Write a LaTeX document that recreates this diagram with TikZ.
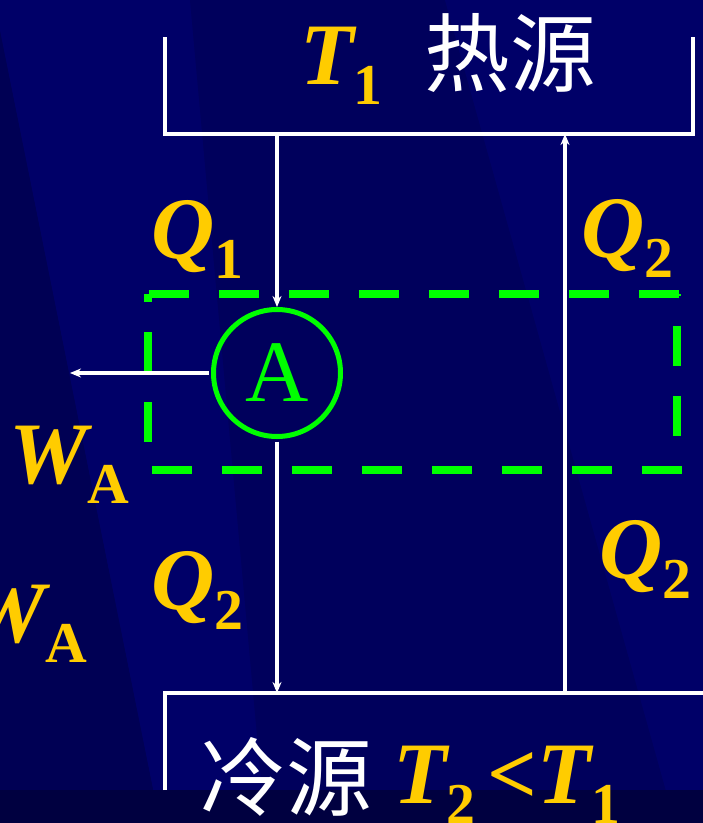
\documentclass[tikz,border=0pt]{standalone}
\usepackage{fontspec}
\setmainfont{Liberation Serif}
\newfontfamily\cjk{Noto Sans CJK SC}
\usepackage{tikz}
\usetikzlibrary{arrows.meta,positioning}

\definecolor{navy}{RGB}{0,0,100}
\definecolor{navydark}{RGB}{0,0,84}
\definecolor{navymid}{RGB}{0,0,92}
\definecolor{navylight}{RGB}{0,0,104}
\definecolor{navystrip}{RGB}{0,0,64}
\definecolor{gold}{RGB}{255,204,0}
\definecolor{lime}{RGB}{0,255,0}

\newcommand\heat[2]{{\fontsize{88}{88}\selectfont\bfseries\itshape #1}\raisebox{-20bp}{\fontsize{58}{58}\selectfont\bfseries #2}}

\begin{document}
\begin{tikzpicture}[x=1bp,y=-1bp,
  wire/.style={draw=white,line width=3.5bp},
  flow/.style={draw=white,line width=3.2bp,-{Stealth[length=11bp,width=9bp]}},
  gdash/.style={draw=lime,line width=8.5bp,dash pattern=on 40bp off 30bp},
  lab/.style={anchor=base west,inner sep=0pt,text=gold},
  hanzi/.style={inner sep=0pt,text=white,font=\cjk\fontsize{86}{86}\selectfont}]
\useasboundingbox (0,0) rectangle (703,823);
%\draw[help lines] (0,0) grid[step=50] (703,823);
%
\fill[navy] (0,0) rectangle (703,823);
\fill[navydark] (0,30) -- (160,823) -- (0,823) -- cycle;
\fill[navylight] (0,0) -- (190,0) -- (265,823) -- (160,823) -- (0,30) -- cycle;
\fill[navymid] (190,0) -- (445,0) -- (675,823) -- (265,823) -- cycle;
\fill[navylight] (445,0) -- (703,0) -- (703,823) -- (675,823) -- cycle;
\fill[navystrip] (0,790) rectangle (703,823);
%
\draw[wire] (165,37) -- (165,134) -- (693,134) -- (693,37);
\draw[wire] (165,790) -- (165,693) -- (703,693);
\coordinate (hotout) at (277,134);
\coordinate (hotin) at (565,134);
\coordinate (coldin) at (277,693);
\coordinate (coldout) at (565,693);
\coordinate (work) at (70,373);
%
\draw[gdash] (149,294) -- (682,294);
\draw[gdash] (152,470) -- (682,470);
\draw[gdash,dash phase=32bp] (148,294) -- (148,470);
\draw[gdash,dash phase=38bp] (677,294) -- (677,470);
%
\node[circle,draw=lime,line width=5bp,minimum size=127bp,inner sep=0pt,
  text=lime,font=\fontsize{88}{88}\selectfont] (eng) at (277,373) {A};
\draw[flow] (hotout) -- (eng.north);
\draw[flow,shorten <=2.5bp] (eng.west) -- (work);
\draw[flow,shorten <=2.5bp] (eng.south) -- (coldin);
\draw[flow] (coldout) -- (hotin);
%
\node[lab] (t1) at (300,84) {\heat{T}{1}};
\node[hanzi] (hot) at (510,53) {热源};
\node[hanzi] (cold) at (286,777) {冷源};
\node[lab] (t2) at (393,803) {\heat{T}{2}\hspace{12bp}{\fontsize{88}{88}\selectfont\bfseries<}\heat{T}{1}};
\foreach \n/\x/\y/\s in {q1/151/258/1,q2a/581/257/2,q2b/599/578/2,q2c/151/609/2}
  \node[lab] (\n) at (\x,\y) {\heat{Q}{\s}};
\foreach \n/\x/\y in {wa/9/483,wb/-33/642}
  \node[lab] (\n) at (\x,\y) {\heat{W}{A}};
\end{tikzpicture}
\end{document}
